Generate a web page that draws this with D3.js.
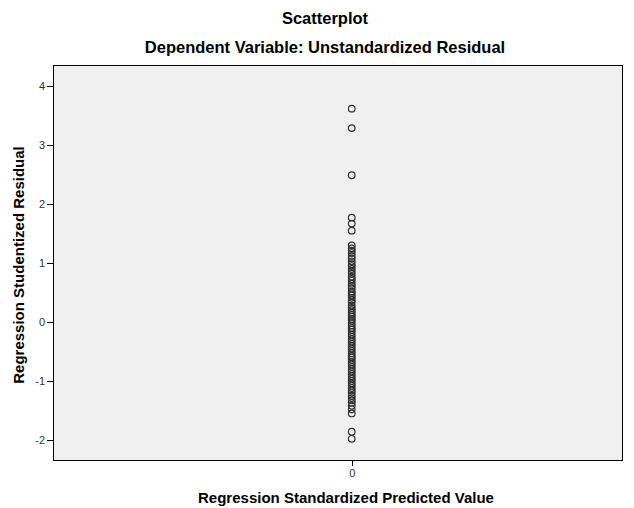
<!DOCTYPE html>
<html><head><meta charset="utf-8">
<script src="https://cdn.jsdelivr.net/npm/d3@7"></script>
<style>body{margin:0;background:#fff;}svg{display:block;font-family:"Liberation Sans",Arial,sans-serif;}</style>
</head><body><div id="chart"></div>
<script>
const title = "Scatterplot";
const subtitle = "Dependent Variable: Unstandardized Residual";
const xLabel = "Regression Standardized Predicted Value";
const yLabel = "Regression Studentized Residual";
const yTicks = [-2, -1, 0, 1, 2, 3, 4];
const xTicks = [0];
const residuals = [3.62, 3.29, 2.49, 1.77, 1.67, 1.55,
  1.30, 1.25, 1.21, 1.17, 1.12, 1.08, 1.03, 0.98, 0.95, 0.90, 0.86, 0.82, 0.77, 0.73, 0.70,
  0.65, 0.61, 0.57, 0.52, 0.49, 0.45, 0.41, 0.37, 0.33, 0.28, 0.24, 0.20, 0.16, 0.12, 0.09,
  0.05, 0.02, -0.02, -0.06, -0.10, -0.13, -0.17, -0.21, -0.25, -0.29, -0.33, -0.37, -0.41,
  -0.45, -0.49, -0.53, -0.57, -0.60, -0.64, -0.68, -0.72, -0.76, -0.80, -0.84, -0.88, -0.92,
  -0.96, -1.00, -1.04, -1.08, -1.12, -1.16, -1.20, -1.25, -1.29, -1.33, -1.37, -1.42, -1.48,
  -1.55, -1.86, -1.98];
const predicted = residuals.map(() => 0);

const W = 634, H = 508;
const m = {left: 53, top: 65, right: 622, bottom: 460};
const svg = d3.select("#chart").append("svg").attr("width", W).attr("height", H);

const x = d3.scaleLinear().domain([-0.525, 0.475]).range([m.left, m.right]);
const y = d3.scaleLinear().domain([-2.34, 4.36]).range([m.bottom, m.top]);

svg.append("rect").attr("x", m.left).attr("y", m.top)
  .attr("width", m.right - m.left).attr("height", m.bottom - m.top)
  .attr("fill", "#f0f0f0").attr("stroke", "#000").attr("stroke-width", 1)
  .attr("shape-rendering", "crispEdges");

const fmt = d => String(d);
const yAxis = svg.append("g").attr("transform", `translate(${m.left},0)`)
  .call(d3.axisLeft(y).tickValues(yTicks).tickSize(6).tickPadding(2).tickFormat(fmt));
const xAxis = svg.append("g").attr("transform", `translate(0,${m.bottom})`)
  .call(d3.axisBottom(x).tickValues(xTicks).tickSize(6).tickPadding(3).tickFormat(fmt));
[yAxis, xAxis].forEach(a => {
  a.select(".domain").remove();
  a.selectAll("line").attr("stroke", "#000").attr("shape-rendering", "crispEdges");
  a.selectAll("text").attr("fill", "#333").style("font-size", "11px").style("font-family", "'Liberation Sans',Arial,sans-serif");
});

svg.append("g").selectAll("circle").data(residuals).enter().append("circle")
  .attr("cx", (d, i) => x(predicted[i])).attr("cy", d => y(d)).attr("r", 3.3)
  .attr("fill", "none").attr("stroke", "#333").attr("stroke-width", 1.2);

svg.append("text").attr("x", 325).attr("y", 24).attr("text-anchor", "middle")
  .style("font-size", "16.5px").style("font-weight", "bold").text(title);
svg.append("text").attr("x", 325).attr("y", 53).attr("text-anchor", "middle")
  .style("font-size", "16.5px").style("font-weight", "bold").text(subtitle);
svg.append("text").attr("x", 346).attr("y", 503).attr("text-anchor", "middle")
  .style("font-size", "15px").style("font-weight", "bold").text(xLabel);
svg.append("text").attr("transform", "translate(24,265) rotate(-90)").attr("text-anchor", "middle")
  .style("font-size", "15px").style("font-weight", "bold").text(yLabel);
</script></body></html>
